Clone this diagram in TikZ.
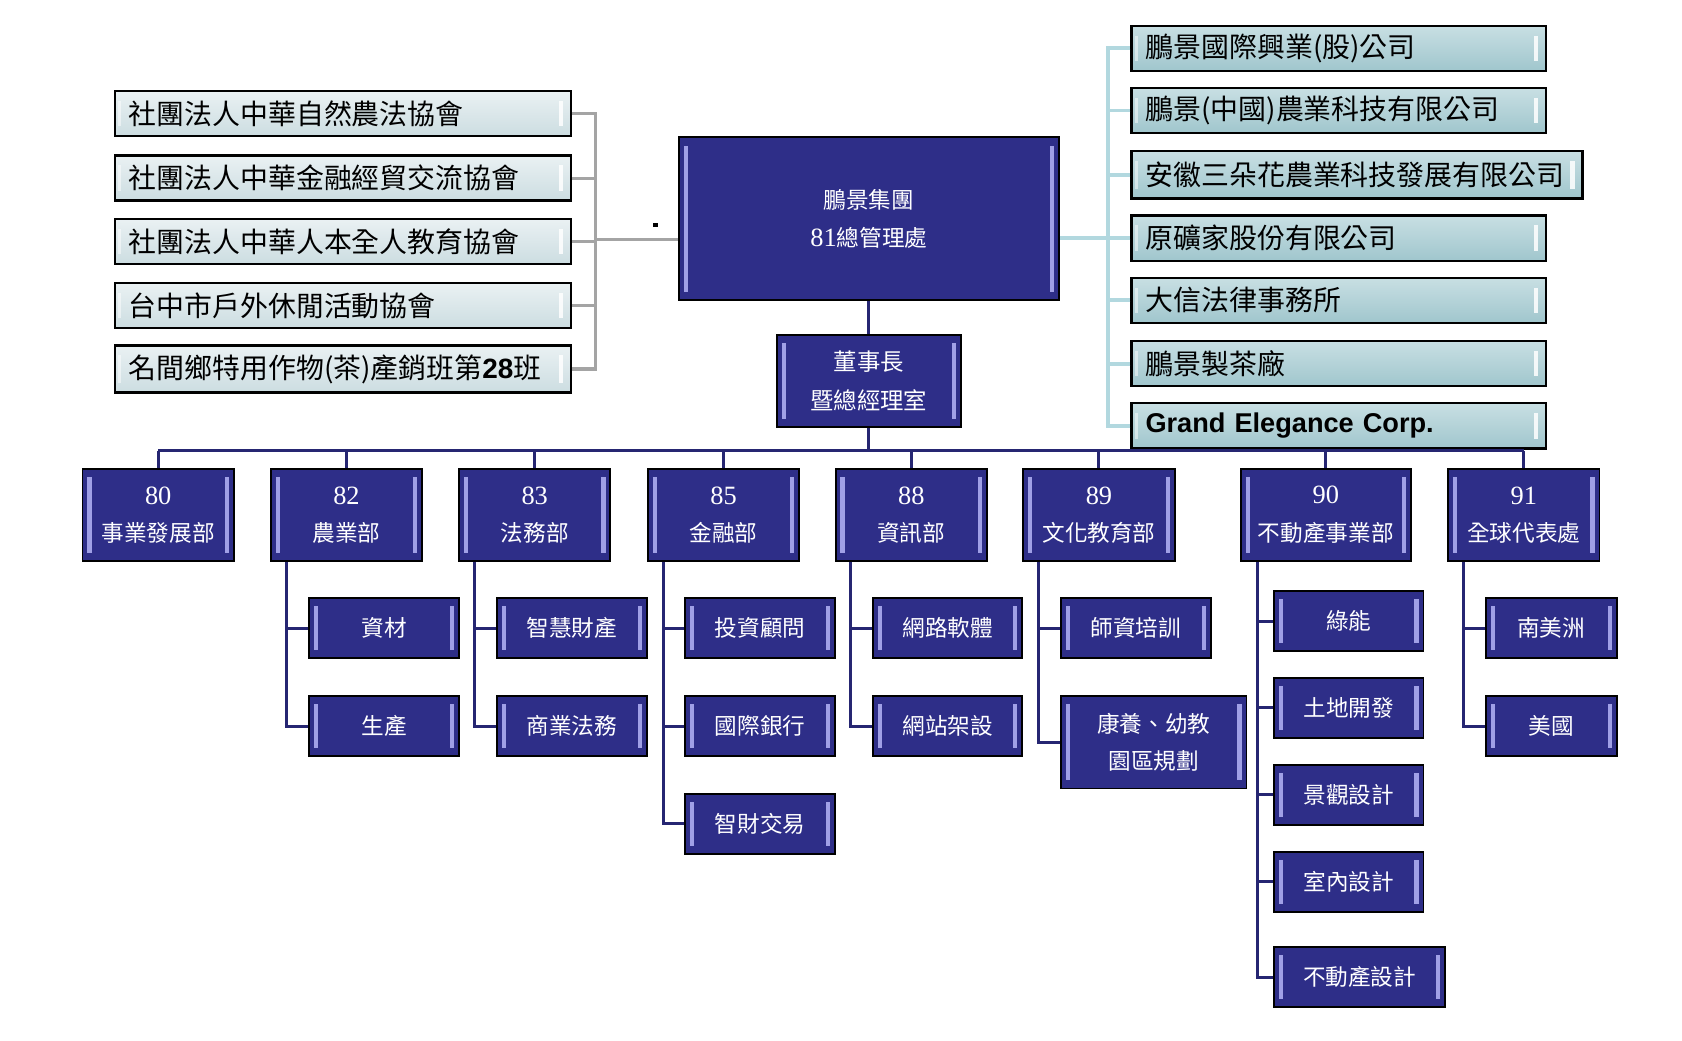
\documentclass[tikz,border=0pt]{standalone}
\usepackage{fontspec}
\newfontfamily\cjk{Noto Sans CJK TC}
\newfontfamily\numfont{Liberation Serif}
\newfontfamily\latsans{Liberation Sans}
\definecolor{navyc}{HTML}{2E2E88}
\definecolor{navyl}{HTML}{A0A0E6}
\definecolor{navyline}{HTML}{262672}
\definecolor{lbtop}{HTML}{EAF1F3}
\definecolor{lbbot}{HTML}{CCDDE1}
\definecolor{rbtop}{HTML}{C8DFE3}
\definecolor{rbbot}{HTML}{A0C6CD}
\definecolor{greyline}{HTML}{A4A4A4}
\definecolor{tealline}{HTML}{B2D8DF}
\begin{document}
\begin{tikzpicture}[x=0.01cm,y=-0.01cm,
  navybox/.style={draw=black, line width=0.5pt, fill=navyc, text=white, inner sep=0pt, align=center,
    font=\cjk\fontsize{6}{9.9}\selectfont,
    path picture={
      \fill[navyl] ([xshift=1.3pt,yshift=-2.2pt]path picture bounding box.north west) rectangle ([xshift=2.4pt,yshift=2.2pt]path picture bounding box.south west);
      \fill[navyl] ([xshift=-1.3pt,yshift=-2.2pt]path picture bounding box.north east) rectangle ([xshift=-2.4pt,yshift=2.2pt]path picture bounding box.south east);
    }},
  lbox/.style={draw=black, line width=0.6pt, top color=lbtop, bottom color=lbbot, inner xsep=0.13cm, inner ysep=0pt, align=left,
    font=\cjk\fontsize{7.4}{9}\selectfont,
    path picture={
      \fill[white, opacity=0.85] ([xshift=-2.0pt,yshift=-2.6pt]path picture bounding box.north east) rectangle ([xshift=-3.2pt,yshift=2.6pt]path picture bounding box.south east);
      \fill[white, opacity=0.5] ([xshift=1.0pt,yshift=-2.6pt]path picture bounding box.north west) rectangle ([xshift=1.8pt,yshift=2.6pt]path picture bounding box.south west);
    }},
  rbox/.style={lbox, top color=rbtop, bottom color=rbbot},
  nconn/.style={draw=navyline, line width=0.8pt},
  greyconn/.style={draw=greyline, line width=0.8pt},
  tealconn/.style={draw=tealline, line width=1pt},
  num/.style={},
]
\fill[white] (0,0) rectangle (1568,970);
\useasboundingbox (0,0) rectangle (1568,970);

% main boxes
\node[navybox, minimum width=3.54cm, minimum height=1.52cm] (main) at (810,204)
  {鵬景集團\\{\numfont\fontsize{7}{9.9}\selectfont 81}總管理處};
\node[navybox, minimum width=1.71cm, minimum height=0.86cm, font=\cjk\fontsize{6.2}{10.2}\selectfont] (chair) at (810,355)
  {董事長\\暨總經理室};

% departments
\node[navybox, minimum width=1.41cm, minimum height=0.86cm] (d80) at (147.5,480) {{\numfont\fontsize{7}{9.9}\selectfont 80}\\事業發展部};
\node[navybox, minimum width=1.40cm, minimum height=0.86cm] (d82) at (323,480) {{\numfont\fontsize{7}{9.9}\selectfont 82}\\農業部};
\node[navybox, minimum width=1.41cm, minimum height=0.86cm] (d83) at (498.5,480) {{\numfont\fontsize{7}{9.9}\selectfont 83}\\法務部};
\node[navybox, minimum width=1.41cm, minimum height=0.86cm] (d85) at (674.5,480) {{\numfont\fontsize{7}{9.9}\selectfont 85}\\金融部};
\node[navybox, minimum width=1.41cm, minimum height=0.86cm] (d88) at (849.5,480) {{\numfont\fontsize{7}{9.9}\selectfont 88}\\資訊部};
\node[navybox, minimum width=1.41cm, minimum height=0.86cm] (d89) at (1024.5,480) {{\numfont\fontsize{7}{9.9}\selectfont 89}\\文化教育部};
\node[navybox, minimum width=1.58cm, minimum height=0.86cm] (d90) at (1236,480) {{\numfont\fontsize{7}{9.9}\selectfont 90}\\不動產事業部};
\node[navybox, minimum width=1.41cm, minimum height=0.86cm] (d91) at (1420.5,480) {{\numfont\fontsize{7}{9.9}\selectfont 91}\\全球代表處};

% sub units
\node[navybox, minimum width=1.40cm, minimum height=0.56cm] (s82a) at (358,585.5) {資材};
\node[navybox, minimum width=1.40cm, minimum height=0.56cm] (s82b) at (358,677) {生產};
\node[navybox, minimum width=1.40cm, minimum height=0.56cm] (s83a) at (533,585.5) {智慧財產};
\node[navybox, minimum width=1.40cm, minimum height=0.56cm] (s83b) at (533,677) {商業法務};
\node[navybox, minimum width=1.39cm, minimum height=0.56cm] (s85a) at (708.5,585.5) {投資顧問};
\node[navybox, minimum width=1.39cm, minimum height=0.56cm] (s85b) at (708.5,677) {國際銀行};
\node[navybox, minimum width=1.39cm, minimum height=0.56cm] (s85c) at (708.5,768) {智財交易};
\node[navybox, minimum width=1.39cm, minimum height=0.56cm] (s88a) at (883.5,585.5) {網路軟體};
\node[navybox, minimum width=1.39cm, minimum height=0.56cm] (s88b) at (883.5,677) {網站架設};
\node[navybox, minimum width=1.40cm, minimum height=0.56cm] (s89a) at (1059,585.5) {師資培訓};
\node[navybox, minimum width=1.73cm, minimum height=0.86cm] (s89b) at (1075.5,692) {康養、幼教\\園區規劃};
\node[navybox, minimum width=1.39cm, minimum height=0.56cm] (s90a) at (1257.5,579) {綠能};
\node[navybox, minimum width=1.39cm, minimum height=0.56cm] (s90b) at (1257.5,660) {土地開發};
\node[navybox, minimum width=1.39cm, minimum height=0.56cm] (s90c) at (1257.5,741) {景觀設計};
\node[navybox, minimum width=1.39cm, minimum height=0.56cm] (s90d) at (1257.5,822) {室內設計};
\node[navybox, minimum width=1.59cm, minimum height=0.56cm] (s90e) at (1267.5,911) {不動產設計};
\node[navybox, minimum width=1.22cm, minimum height=0.56cm] (s91a) at (1446,585.5) {南美洲};
\node[navybox, minimum width=1.22cm, minimum height=0.56cm] (s91b) at (1446,677) {美國};

% left associations
\node[lbox, text width=3.99cm, minimum height=0.42cm] (l1) at (319.5,106) {社團法人中華自然農法協會};
\node[lbox, text width=3.99cm, minimum height=0.42cm] (l2) at (319.5,166) {社團法人中華金融經貿交流協會};
\node[lbox, text width=3.99cm, minimum height=0.42cm] (l3) at (319.5,225) {社團法人中華人本全人教育協會};
\node[lbox, text width=3.99cm, minimum height=0.42cm] (l4) at (319.5,285) {台中市戶外休閒活動協會};
\node[lbox, text width=3.99cm, minimum height=0.44cm] (l5) at (319.5,344) {名間鄉特用作物(茶)產銷班第{\latsans\bfseries 28}班};

% right companies
\node[rbox, text width=3.60cm, minimum height=0.42cm] (r1) at (1248,45) {鵬景國際興業(股)公司};
\node[rbox, text width=3.60cm, minimum height=0.42cm] (r2) at (1248,103) {鵬景(中國)農業科技有限公司};
\node[rbox, text width=3.94cm, minimum height=0.44cm] (r3) at (1265,163) {安徽三朵花農業科技發展有限公司};
\node[rbox, text width=3.60cm, minimum height=0.42cm] (r4) at (1248,222) {原礦家股份有限公司};
\node[rbox, text width=3.60cm, minimum height=0.42cm] (r5) at (1248,280) {大信法律事務所};
\node[rbox, text width=3.60cm, minimum height=0.42cm] (r6) at (1248,339) {鵬景製茶廠};
\node[rbox, text width=3.60cm, minimum height=0.42cm, font=\latsans\bfseries\fontsize{7.2}{9}\selectfont] (r7) at (1248,397) {Grand Elegance Corp.};

% small dot
\node[fill=black, inner sep=0pt, minimum size=0.04cm] (dot) at (611,210) {};

% left connectors
\coordinate (lbar) at (555,223);
\foreach \n in {l1,l2,l3,l4,l5} \draw[greyconn] (\n.east) -| (lbar);
\draw[greyconn] (lbar) -- (main.west |- lbar);

% right connectors
\coordinate (rbar) at (1033,222);
\foreach \n in {r1,r2,r3,r4,r5,r6,r7} \draw[tealconn] (\n.west) -| (rbar);
\draw[tealconn] (main.east |- rbar) -- (rbar);

% main hierarchy
\draw[nconn] (main.south) -- (chair.north);
\coordinate (bus) at (810,420);
\draw[nconn] (chair.south) -- (bus);
\draw[nconn] (d80.north |- bus) -- (d91.north |- bus);
\foreach \n in {d80,d82,d83,d85,d88,d89,d90,d91} \draw[nconn] (\n.north |- bus) -- (\n.north);

% sub connectors
\foreach \d/\s in {d82/s82a,d82/s82b,d83/s83a,d83/s83b,d85/s85a,d85/s85b,d85/s85c,d88/s88a,d88/s88b,d89/s89a,d89/s89b,d91/s91a,d91/s91b}
  \draw[nconn] ([xshift=0.15cm]\d.south west) |- (\s.west);
\foreach \s in {s90a,s90b,s90c,s90d,s90e}
  \draw[nconn] ([xshift=0.16cm]d90.south west) |- (\s.west);
\end{tikzpicture}
\end{document}
